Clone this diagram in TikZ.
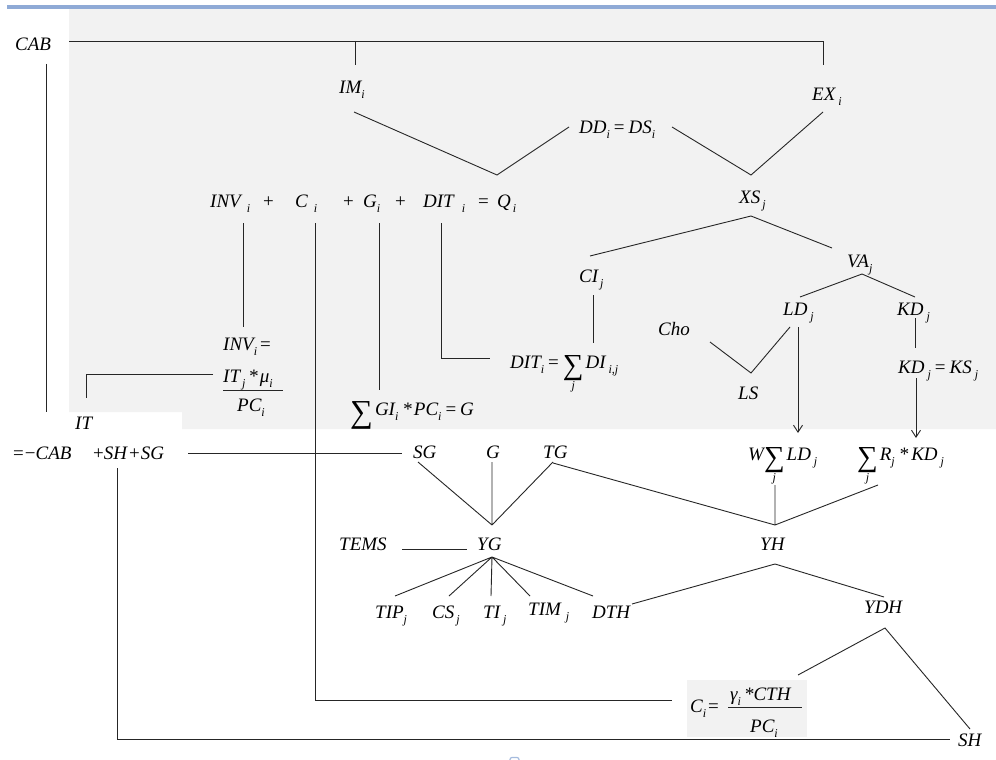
\documentclass[tikz,border=0pt]{standalone}
\usepackage{fontspec}
\setmainfont{Liberation Serif}
\usetikzlibrary{arrows.meta}
\definecolor{bgray}{RGB}{242,242,242}
\definecolor{topblue}{RGB}{143,170,214}
\newcommand{\sbf}{\fontsize{12}{12}\selectfont\itshape}
\newcommand{\sbi}[1]{\raisebox{-5pt}{\sbf #1}}
\newcommand{\bigsigma}{\raisebox{-7pt}{\upshape\fontsize{32}{32}\selectfont ∑}}
\newcommand{\sumj}[1]{$\mathop{\raisebox{-6pt}{\upshape\fontsize{29}{29}\selectfont ∑}}\limits_{\hbox{\sbf #1}}$}
\newcommand{\up}[1]{{\upshape #1}}
\newcommand{\eqs}{\hspace{4pt}\up{=}\hspace{4pt}}
\begin{document}
\begin{tikzpicture}[x=1pt,y=-1pt,
  lbl/.style={inner sep=0pt, anchor=base west, font=\fontsize{19}{19}\selectfont\itshape},
  ln/.style={line width=0.9pt, draw=black!85},
  arr/.style={ln, -{Straight Barb[length=7pt,width=9pt]}}]
\useasboundingbox (0,0) rectangle (996,760);
\fill[white] (0,0) rectangle (996,760);
% backgrounds
\fill[bgray] (69,9) -- (996,9) -- (996,429) -- (182,429) -- (182,412) -- (69,412) -- cycle;
\draw[topblue, line width=3.5pt] (7,6.8) -- (996,6.8);
\fill[bgray] (687,680) rectangle (807,737);
\draw[topblue!80, line width=1.2pt, rounded corners=2pt] (510,762) -- (510,757.5) -- (519,757.5) -- (519,762);

% labels
\node[lbl] (cab) at (15,51) {CAB};
\node[lbl] (im) at (339,93) {IM\sbi{i}};
\node[lbl] (ex) at (812,100) {EX\hspace{3pt}\sbi{i}};
\node[lbl] (dd) at (579,133) {DD\sbi{i}\eqs DS\sbi{i}};
\node[lbl] (xs) at (739,203) {XS\hspace{2pt}\sbi{j}};
\node[lbl] (inv) at (210,207) {INV\hspace{6pt}\sbi{i}};
\node[lbl] (pla) at (263,207) {\up{+}};
\node[lbl] (cc) at (295,207) {C\hspace{6pt}\sbi{i}};
\node[lbl] (plb) at (343,207) {\up{+}};
\node[lbl] (gi) at (363,207) {G\sbi{i}};
\node[lbl] (plc) at (395,207) {\up{+}};
\node[lbl] (dit) at (423,207) {DIT\hspace{8pt}\sbi{i}};
\node[lbl] (eqa) at (478,207) {\up{=}};
\node[lbl] (qq) at (497,207) {Q\hspace{2pt}\sbi{i}};
\node[lbl] (ci) at (579,282) {CI\hspace{2pt}\sbi{j}};
\node[lbl] (va) at (847,267) {VA\sbi{j}};
\node[lbl] (ld) at (783,315) {LD\hspace{3pt}\sbi{j}};
\node[lbl] (kd) at (897,315) {KD\hspace{3pt}\sbi{j}};
\node[lbl] (cho) at (658,335) {Cho};
\node[lbl] (ls) at (738,399) {LS};
\node[lbl] (kdks) at (898,373) {KD\hspace{3pt}\sbi{j}\eqs KS\hspace{3pt}\sbi{j}};
\node[lbl] (wld) at (748,460) {W\sumj{j}\hspace{2pt}LD\hspace{3pt}\sbi{j}};
\node[lbl] (rkd) at (857,460) {\sumj{j}\hspace{2pt}R\sbi{j}\hspace{4pt}*\hspace{3pt}KD\hspace{3pt}\sbi{j}};
\node[lbl] (yh) at (760,550) {YH};
\node[lbl] (ydh) at (864,613) {YDH};
\node[lbl] (sh) at (958,746) {SH};
\node[lbl] (tems) at (339,550) {TEMS};
\node[lbl] (yg) at (477,550) {YG};
\node[lbl] (tip) at (375,618) {TIP\sbi{j}};
\node[lbl] (cs) at (432,618) {CS\hspace{2pt}\sbi{j}};
\node[lbl] (ti) at (483,618) {TI\hspace{3pt}\sbi{j}};
\node[lbl] (tim) at (528,615) {TIM\hspace{5pt}\sbi{j}};
\node[lbl] (dth) at (592,618) {DTH};
\node[lbl] (sg) at (413,458) {SG};
\node[lbl] (gg) at (486,458) {G};
\node[lbl] (tg) at (543,458) {TG};
\node[lbl] (gsum) at (350,415) {\bigsigma\hspace{2pt}GI\sbi{i}\hspace{4pt}*\hspace{2pt}PC\sbi{i}\eqs G};
\node[lbl] (ditsum) at (510,368) {DIT\sbi{i}\eqs\sumj{j}\hspace{2pt}DI\hspace{3pt}\sbi{i,j}};
\node[lbl] (inveq) at (223,350) {INV\sbi{i}\hspace{3pt}\up{=}};
\node[lbl] (invnum) at (223,382) {IT\hspace{2pt}\sbi{j}\hspace{3pt}*\hspace{2pt}μ\sbi{i}};
\node[lbl] (invden) at (237,411) {PC\sbi{i}};
\node[lbl] (it) at (75,429) {IT};
\node[lbl] (cabm) at (13,459) {\up{=}\hspace{1pt}\up{−}CAB};
\node[lbl] (shsg) at (93,459) {\up{+}SH\hspace{2pt}\up{+}\hspace{1pt}SG};
\node[lbl] (cieq) at (690,712) {C\sbi{i}\hspace{2pt}\up{=}};
\node[lbl] (cnum) at (730,700) {γ\sbi{i}\hspace{3pt}*CTH};
\node[lbl] (cden) at (750,732) {PC\sbi{i}};

% coordinates
\coordinate (a1) at (69,41); \coordinate (a2) at (823,41);
\coordinate (a3) at (355,41); \coordinate (a4) at (355,65); \coordinate (a5) at (823,65);
\coordinate (b1) at (46,64); \coordinate (b2) at (46,412);
\coordinate (c1) at (354,112); \coordinate (c2) at (497,175); \coordinate (c3) at (569,127);
\coordinate (d1) at (672,127); \coordinate (d2) at (751,175); \coordinate (d3) at (823,112);
\coordinate (e1) at (590,256); \coordinate (e2) at (751,216); \coordinate (e3) at (832,248);
\coordinate (f1) at (593,295); \coordinate (f2) at (593,343);
\coordinate (g1) at (800,297); \coordinate (g2) at (862,274); \coordinate (g3) at (915,297);
\coordinate (h1) at (710,342); \coordinate (h2) at (751,373); \coordinate (h3) at (790,327);
\coordinate (i1) at (798,327); \coordinate (i2) at (798,433);
\coordinate (j1) at (915,318); \coordinate (j2) at (915,348);
\coordinate (k1) at (916,378); \coordinate (k2) at (916,438);
\coordinate (l0) at (775,525); \coordinate (l1) at (775,485); \coordinate (l2) at (878,485); \coordinate (l3) at (553,463);
\coordinate (m0) at (775,564); \coordinate (m1) at (632,604); \coordinate (m2) at (884,597);
\coordinate (n0) at (885,628); \coordinate (n1) at (798,675); \coordinate (n2) at (970,729);
\coordinate (o1) at (117,468); \coordinate (o2) at (117,739); \coordinate (o3) at (950,739);
\coordinate (p1) at (315,223); \coordinate (p2) at (315,700); \coordinate (p3) at (672,700);
\coordinate (q1) at (243,223); \coordinate (q2) at (243,327);
\coordinate (r1) at (213,374); \coordinate (r2) at (86,374); \coordinate (r3) at (86,398);
\coordinate (s1) at (188,453); \coordinate (s2) at (402,453);
\coordinate (t1) at (379,223); \coordinate (t2) at (379,390);
\coordinate (u1) at (441,223); \coordinate (u2) at (441,358); \coordinate (u3) at (490,358);
\coordinate (v0) at (492,525); \coordinate (v1) at (418,462); \coordinate (v2) at (492,462); \coordinate (v3) at (553,462);
\coordinate (w1) at (402,549); \coordinate (w2) at (467,549);
\coordinate (x0) at (492,557); \coordinate (x1) at (395,596); \coordinate (x2) at (449,596);
\coordinate (x3) at (491,596); \coordinate (x4) at (530,596); \coordinate (x5) at (593,596);
\coordinate (fb1) at (223,390); \coordinate (fb2) at (283,390);
\coordinate (fc1) at (728,707); \coordinate (fc2) at (802,707);

% connectors
\draw[ln] (a1) -- (a2) -- (a5);
\draw[ln] (a3) -- (a4);
\draw[ln] (b1) -- (b2);
\draw[ln] (c1) -- (c2) -- (c3);
\draw[ln] (d1) -- (d2) -- (d3);
\draw[ln] (e1) -- (e2) -- (e3);
\draw[ln] (f1) -- (f2);
\draw[ln] (g1) -- (g2) -- (g3);
\draw[ln] (h1) -- (h2) -- (h3);
\draw[arr] (i1) -- (i2);
\draw[ln] (j1) -- (j2);
\draw[arr] (k1) -- (k2);
\draw[ln] (l1) -- (l0) (l2) -- (l0) (l3) -- (l0);
\draw[ln] (m1) -- (m0) -- (m2);
\draw[ln] (n1) -- (n0) -- (n2);
\draw[ln] (o1) -- (o2) -- (o3);
\draw[ln] (p1) -- (p2) -- (p3);
\draw[ln] (q1) -- (q2);
\draw[ln] (r1) -- (r2) -- (r3);
\draw[ln] (s1) -- (s2);
\draw[ln] (t1) -- (t2);
\draw[ln] (u1) -- (u2) -- (u3);
\draw[ln] (v1) -- (v0) (v2) -- (v0) (v3) -- (v0);
\draw[ln] (w1) -- (w2);
\draw[ln] (x0) -- (x1) (x0) -- (x2) (x0) -- (x3) (x0) -- (x4) (x0) -- (x5);
\draw[ln] (fb1) -- (fb2);
\draw[ln] (fc1) -- (fc2);
\end{tikzpicture}
\end{document}
